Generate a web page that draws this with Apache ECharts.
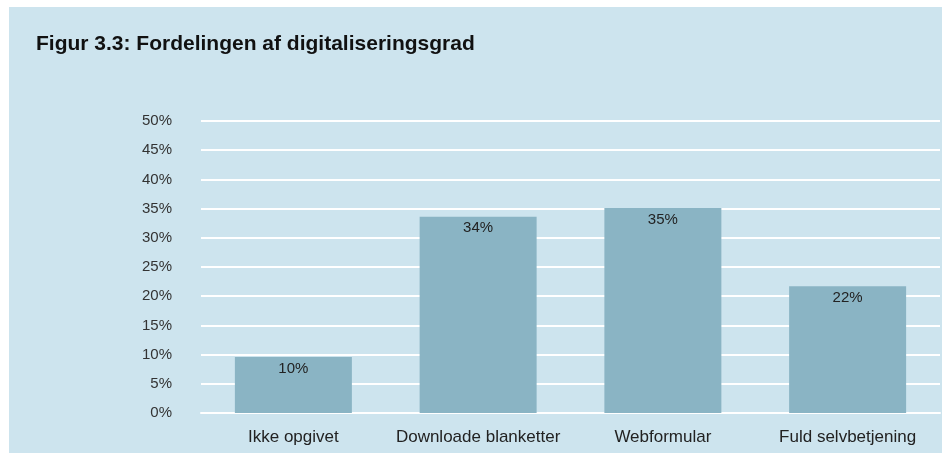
<!DOCTYPE html>
<html>
<head>
<meta charset="utf-8">
<script src="https://cdn.jsdelivr.net/npm/echarts@6/dist/echarts.min.js"></script>
<style>
  html, body { margin: 0; padding: 0; background: #ffffff; }
  #frame { position: absolute; left: 9px; top: 7px; width: 933px; height: 446px; background: #cde4ee; }
  #chart { position: absolute; left: 0; top: 0; width: 942px; height: 454px; }
</style>
</head>
<body>
<div id="frame"></div>
<div id="chart"></div>
<script>
const titleText = 'Figur 3.3: Fordelingen af digitaliseringsgrad';
const categories = ['Ikke opgivet', 'Downloade blanketter', 'Webformular', 'Fuld selvbetjening'];
const values = [9.6, 33.6, 35.1, 21.7];
const valueLabels = ['10%', '34%', '35%', '22%'];
const yTicks = [0, 5, 10, 15, 20, 25, 30, 35, 40, 45, 50];

const chart = echarts.init(document.getElementById('chart'), null, { renderer: 'canvas' });
chart.setOption({
  backgroundColor: 'transparent',
  animation: false,
  title: {
    text: titleText,
    left: 31, top: 29,
    textStyle: { fontFamily: 'Liberation Sans, Arial, sans-serif', fontSize: 21, fontWeight: 'bold', color: '#111' }
  },
  grid: { left: 201, right: 2, top: 121, bottom: 41, containLabel: false },
  xAxis: {
    type: 'category',
    data: categories,
    axisLine: { show: true, lineStyle: { color: '#ffffff', width: 2 } },
    axisTick: { show: false },
    axisLabel: { interval: 0, hideOverlap: false, color: '#222', fontSize: 17, fontFamily: 'Liberation Sans, Arial, sans-serif', margin: 16 }
  },
  yAxis: {
    type: 'value',
    min: yTicks[0], max: yTicks[yTicks.length - 1], interval: 5,
    axisLine: { show: false },
    axisTick: { show: false },
    splitLine: { show: true, lineStyle: { color: '#ffffff', width: 2 } },
    axisLabel: { color: '#333', fontSize: 15, fontFamily: 'Liberation Sans, Arial, sans-serif', margin: 29, formatter: v => v + '%' }
  },
  series: [{
    type: 'bar',
    data: values,
    barWidth: 117,
    itemStyle: { color: '#8ab4c4' },
    label: {
      show: true, position: 'insideTop', distance: 4,
      color: '#222', fontSize: 15, fontFamily: 'Liberation Sans, Arial, sans-serif',
      formatter: p => valueLabels[p.dataIndex]
    }
  }]
});
</script>
</body>
</html>
